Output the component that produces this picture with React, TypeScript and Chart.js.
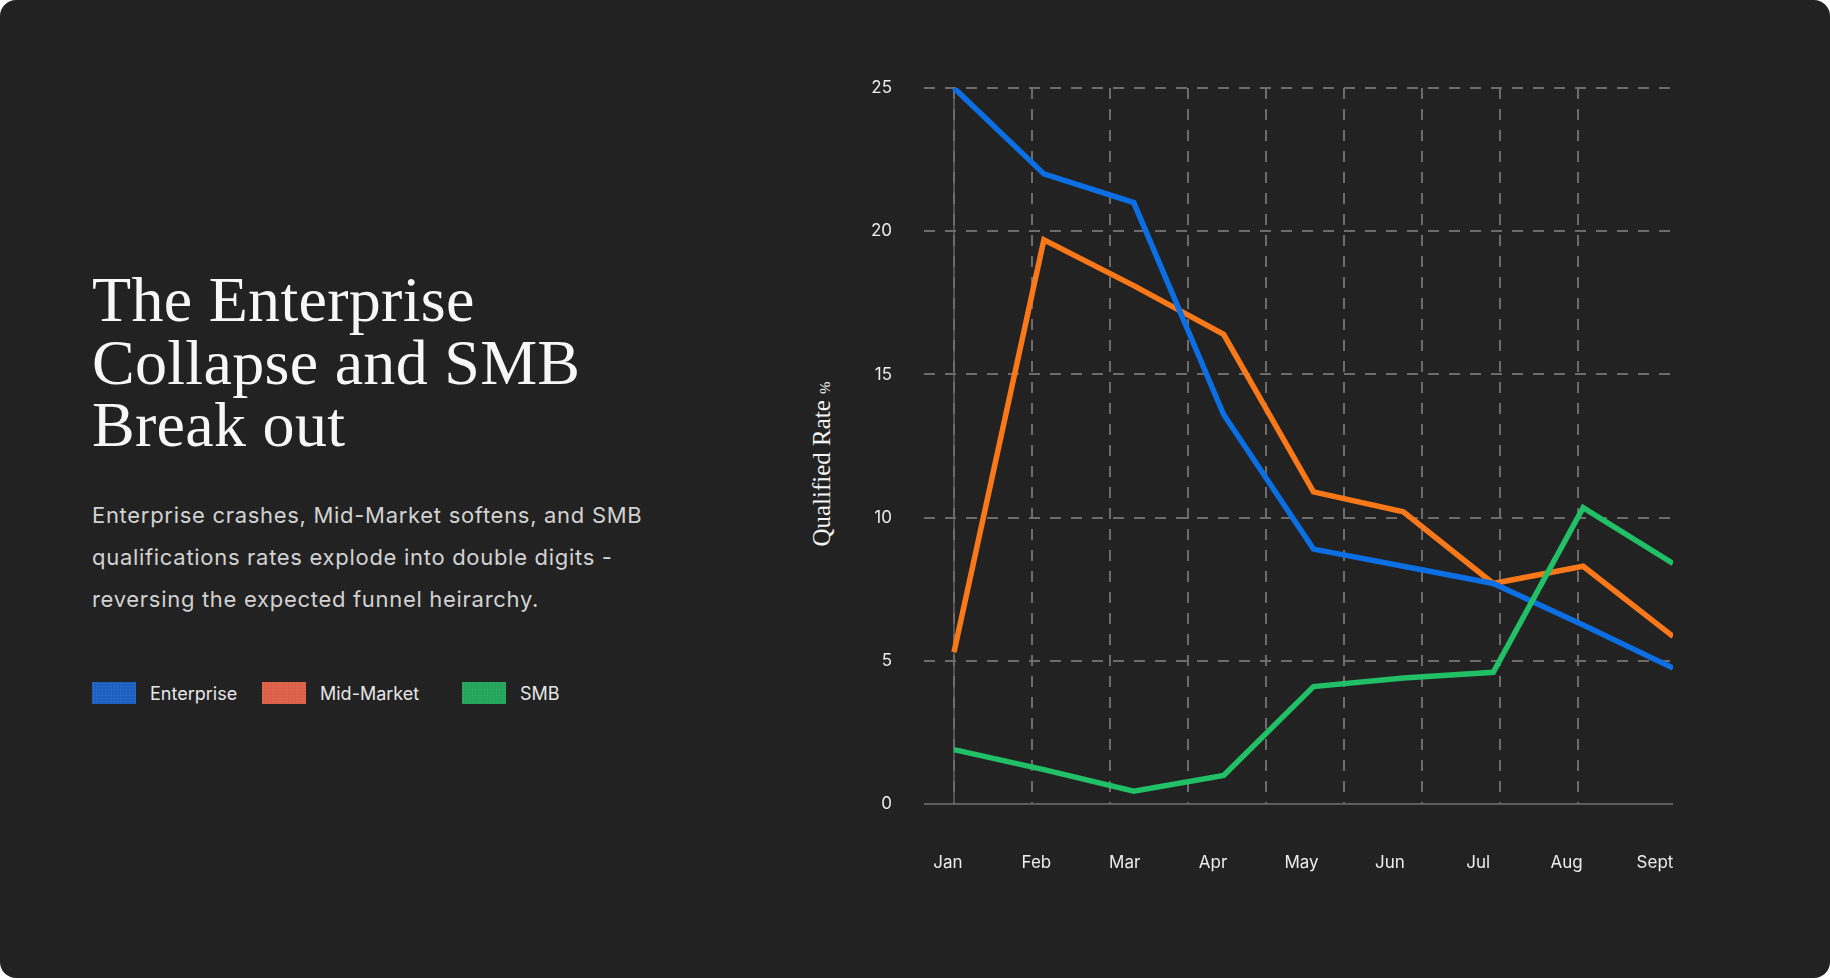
import React, { useEffect, useRef } from 'react';
import { Chart, registerables } from 'chart.js';

Chart.register(...registerables);

// chart values
const months = ['Jan', 'Feb', 'Mar', 'Apr', 'May', 'Jun', 'Jul', 'Aug', 'Sept'];
const enterprise = [25, 22, 21, 13.6, 8.9, 8.3, 7.7, 6.25, 4.75];
const midMarket = [5.3, 19.7, 18.1, 16.4, 10.9, 10.2, 7.7, 8.3, 5.85];
const smb = [1.9, 1.2, 0.45, 1.0, 4.1, 4.4, 4.6, 10.35, 8.4];
const yTicks = [0, 5, 10, 15, 20, 25];
// the dashed month grid runs on its own, tighter spacing than the data
const gridColumns = [0, 1, 2, 3, 4, 5, 6, 7, 8];

const legendItems = [
  { label: 'Enterprise', color: '#1c60c2', width: 170 },
  { label: 'Mid-Market', color: '#dc5f48', width: 200 },
  { label: 'SMB', color: '#23a55c', width: 120 },
];

const tickFont = { family: 'Inter, "Noto Sans", sans-serif', size: 17 };

// no extra side padding for the bottom axes, the layout padding handles it
const noSidePadding = (scale: any, height: number) => {
  scale.height = height;
  scale.paddingLeft = 0;
  scale.paddingRight = 0;
};

const App = () => {
  const canvasRef = useRef<HTMLCanvasElement | null>(null);

  useEffect(() => {
    document.body.style.margin = '0';
    const ctx = canvasRef.current?.getContext('2d');
    if (!ctx) return;

    const toPoints = (vals: number[]) => vals.map((v, i) => ({ x: i, y: v }));

    const chart = new Chart(ctx, {
      type: 'line',
      data: {
        datasets: [
          { label: 'Enterprise', data: toPoints(enterprise), borderColor: '#0b6fe3', order: 1 },
          { label: 'Mid-Market', data: toPoints(midMarket), borderColor: '#f97819', order: 2 },
          { label: 'SMB', data: toPoints(smb), borderColor: '#21bf66', order: 0 },
        ].map((d) => ({ ...d, borderWidth: 5.5, pointRadius: 0, tension: 0, fill: false })),
      },
      options: {
        animation: false,
        responsive: false,
        maintainAspectRatio: false,
        layout: { padding: { top: 48, right: 27, bottom: 0, left: 0 } },
        plugins: { legend: { display: false }, tooltip: { enabled: false } },
        scales: {
          x: {
            type: 'linear',
            min: -0.3338,
            max: 8,
            afterBuildTicks: (scale: any) => { scale.ticks = [{ value: 0 }]; },
            afterFit: (scale: any) => noSidePadding(scale, 0),
            ticks: { display: false },
            grid: { color: '#535353', lineWidth: 2, drawTicks: false, z: -1 },
            border: { display: false },
          },
          xg: {
            type: 'linear',
            position: 'bottom',
            min: -0.3846,
            max: 9.218,
            afterBuildTicks: (scale: any) => { scale.ticks = gridColumns.map((v) => ({ value: v })); },
            afterFit: (scale: any) => noSidePadding(scale, 0),
            ticks: { display: false },
            grid: { color: '#6c6c6c', lineWidth: 2, drawTicks: false },
            border: { display: false, dash: [11, 10] },
          },
          xl: {
            type: 'linear',
            position: 'bottom',
            min: -0.2716,
            max: 8.204,
            afterBuildTicks: (scale: any) => { scale.ticks = months.map((_, i) => ({ value: i })); },
            afterFit: (scale: any) => noSidePadding(scale, 116),
            ticks: {
              autoSkip: false,
              maxRotation: 0,
              padding: 49,
              color: '#ececec',
              font: tickFont,
              callback: (_v: any, i: number) => months[i],
            },
            grid: { display: false, drawTicks: false },
            border: { display: false },
          },
          y: {
            min: 0,
            max: 25,
            afterBuildTicks: (scale: any) => { scale.ticks = yTicks.map((v) => ({ value: v })); },
            afterFit: (scale: any) => { scale.width = 124; },
            ticks: { padding: 32, color: '#ececec', font: tickFont },
            grid: {
              color: (c: any) => (c.tick && c.tick.value === 0 ? '#5e5e5e' : '#6c6c6c'),
              lineWidth: 2,
              drawTicks: false,
            },
            border: {
              display: false,
              dash: (c: any) => (c.tick && c.tick.value === 0 ? [] : [11, 10]),
            },
          },
        },
      },
    });

    return () => chart.destroy();
  }, []);

  return (
    <div
      style={{
        position: 'relative',
        width: 1830,
        height: 978,
        background: '#222222',
        borderRadius: 16,
        overflow: 'hidden',
      }}
    >
      <h1
        style={{
          position: 'absolute',
          left: 92,
          top: 269,
          margin: 0,
          fontFamily: '"Liberation Serif", "Times New Roman", serif',
          fontWeight: 400,
          fontSize: 64,
          lineHeight: '62.5px',
          letterSpacing: '0.3px',
          color: '#f7f7f7',
        }}
      >
        The Enterprise
        <br />
        Collapse and SMB
        <br />
        Break out
      </h1>
      <p
        style={{
          position: 'absolute',
          left: 92,
          top: 494,
          margin: 0,
          width: 700,
          fontFamily: 'Inter, "Noto Sans", sans-serif',
          fontSize: 22,
          letterSpacing: '0.7px',
          lineHeight: '42px',
          color: '#d2d2d2',
        }}
      >
        Enterprise crashes, Mid-Market softens, and SMB
        <br />
        qualifications rates explode into double digits -
        <br />
        reversing the expected funnel heirarchy.
      </p>
      <div style={{ position: 'absolute', left: 92, top: 682, display: 'flex', alignItems: 'center' }}>
        {legendItems.map((item) => (
          <div key={item.label} style={{ display: 'flex', alignItems: 'center', width: item.width }}>
            <span
              style={{
                display: 'inline-block',
                width: 44,
                height: 22,
                marginRight: 14,
                backgroundColor: item.color,
                backgroundImage: 'radial-gradient(rgba(255,255,255,0.12) 1px, transparent 1px)',
                backgroundSize: '3px 3px',
              }}
            />
            <span
              style={{
                fontFamily: 'Inter, "Noto Sans", sans-serif',
                fontSize: 18,
                color: '#e6e6e6',
              }}
            >
              {item.label}
            </span>
          </div>
        ))}
      </div>
      <div
        style={{
          position: 'absolute',
          left: 822,
          top: 464,
          transform: 'translate(-50%, -50%) rotate(-90deg)',
          whiteSpace: 'nowrap',
          fontFamily: '"Liberation Serif", "Times New Roman", serif',
          fontSize: 25,
          color: '#f4f4f4',
        }}
      >
        Qualified Rate <span style={{ fontSize: 15 }}>%</span>
      </div>
      <canvas
        ref={canvasRef}
        width={900}
        height={880}
        style={{ position: 'absolute', left: 800, top: 40 }}
      />
    </div>
  );
};

export default App;
